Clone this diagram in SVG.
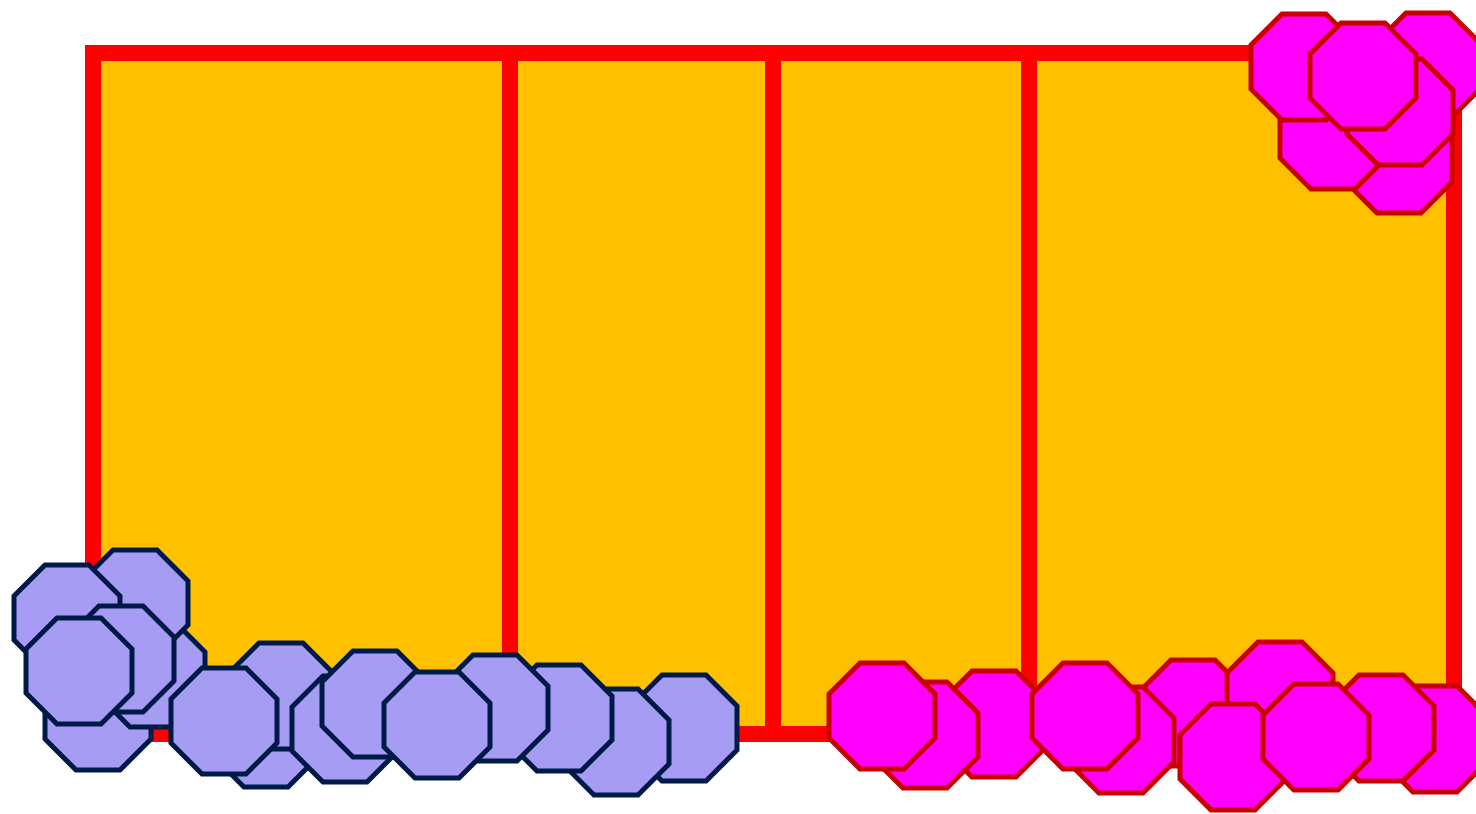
<svg xmlns="http://www.w3.org/2000/svg" xmlns:xlink="http://www.w3.org/1999/xlink" width="1476" height="814" viewBox="0 0 1476 814">
<defs>
<style>
.frame{fill:#FFC000;stroke:#FF0000;stroke-width:16}
.div{stroke:#FF0000;stroke-width:16}
.b{fill:#A69CF4;stroke:#001A48;stroke-width:5;stroke-linejoin:miter}
.p{fill:#FF00FF;stroke:#C80000;stroke-width:5;stroke-linejoin:miter}
</style>
<path id="oct" d="M-22,-53 L22,-53 L53,-22 L53,22 L22,53 L-22,53 L-53,22 L-53,-22 Z"/>
</defs>
<rect width="1476" height="814" fill="#FFFFFF"/>
<g id="frame">
<rect class="frame" x="93" y="53" width="1361" height="681"/>
<line class="div" x1="510" y1="53" x2="510" y2="734"/>
<line class="div" x1="773" y1="53" x2="773" y2="734"/>
<line class="div" x1="1029" y1="53" x2="1029" y2="734"/>
</g>
<g id="blue">
<use xlink:href="#oct" class="b" x="98" y="717"/>
<use xlink:href="#oct" class="b" x="152" y="674"/>
<use xlink:href="#oct" class="b" x="135" y="603"/>
<use xlink:href="#oct" class="b" x="67" y="618"/>
<use xlink:href="#oct" class="b" x="121" y="659"/>
<use xlink:href="#oct" class="b" x="79" y="671"/>
<use xlink:href="#oct" class="b" x="266" y="734"/>
<use xlink:href="#oct" class="b" x="281" y="696"/>
<use xlink:href="#oct" class="b" x="224" y="721"/>
<use xlink:href="#oct" class="b" x="345" y="729"/>
<use xlink:href="#oct" class="b" x="375" y="704"/>
<use xlink:href="#oct" class="b" x="684" y="728"/>
<use xlink:href="#oct" class="b" x="616" y="742"/>
<use xlink:href="#oct" class="b" x="559" y="718"/>
<use xlink:href="#oct" class="b" x="495" y="708"/>
<use xlink:href="#oct" class="b" x="437" y="725"/>
</g>
<g id="pink-bottom">
<use xlink:href="#oct" class="p" x="994" y="724"/>
<use xlink:href="#oct" class="p" x="925" y="735"/>
<use xlink:href="#oct" class="p" x="882" y="716"/>
<use xlink:href="#oct" class="p" x="1193" y="713"/>
<use xlink:href="#oct" class="p" x="1121" y="740"/>
<use xlink:href="#oct" class="p" x="1085" y="716"/>
<use xlink:href="#oct" class="p" x="1280" y="695"/>
<use xlink:href="#oct" class="p" x="1233" y="757"/>
<use xlink:href="#oct" class="p" x="1435" y="739"/>
<use xlink:href="#oct" class="p" x="1381" y="728"/>
<use xlink:href="#oct" class="p" x="1316" y="737"/>
</g>
<g id="pink-top">
<use xlink:href="#oct" class="p" x="1428" y="66"/>
<use xlink:href="#oct" class="p" x="1399" y="160"/>
<use xlink:href="#oct" class="p" x="1333" y="136"/>
<use xlink:href="#oct" class="p" x="1304" y="67"/>
<use xlink:href="#oct" class="p" x="1400" y="112"/>
<use xlink:href="#oct" class="p" x="1363" y="76"/>
</g>
</svg>
